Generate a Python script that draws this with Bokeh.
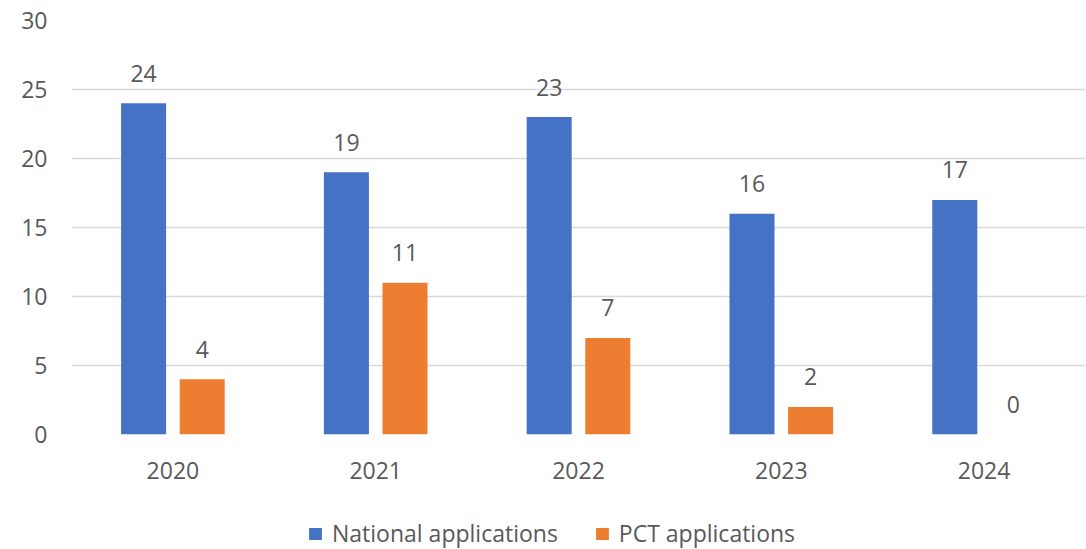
from bokeh.plotting import figure
from bokeh.layouts import column
from bokeh.models import ColumnDataSource, Legend, LegendItem, FactorRange, Range1d, FixedTicker, LabelSet
from bokeh.core.properties import value
from bokeh.transform import dodge
from bokeh.embed import file_html
from bokeh.resources import INLINE

years = ["2020", "2021", "2022", "2023", "2024"]
national = [24, 19, 23, 16, 17]
pct = [4, 11, 7, 2, 0]
series_names = ["National applications", "PCT applications"]
colors = ["#4472C4", "#ED7D31"]
y_ticks = [0, 5, 10, 15, 20, 25, 30]

FONT = "Open Sans"
TXT = "#595959"
FS = "23px"

src = ColumnDataSource(dict(
    year=years, national=national, pct=pct,
    national_lbl=[str(v) for v in national],
    pct_lbl=[str(v) for v in pct],
))

p = figure(x_range=FactorRange(*years), y_range=Range1d(0, 30),
           width=1086, height=500, output_backend="svg", toolbar_location=None,
           min_border_left=71, min_border_right=1, min_border_top=20, min_border_bottom=66)
p.outline_line_color = None
p.xgrid.grid_line_color = None
p.ygrid.grid_line_color = "#D9D9D9"
p.ygrid.grid_line_width = 1.5
p.yaxis.ticker = FixedTicker(ticks=y_ticks)

for ax in (p.xaxis[0], p.yaxis[0]):
    ax.axis_line_color = None
    ax.major_tick_line_color = None
    ax.minor_tick_line_color = None
    ax.major_tick_out = 0
    ax.major_tick_in = 0
    ax.major_label_text_font = FONT
    ax.major_label_text_font_size = FS
    ax.major_label_text_color = TXT
p.yaxis.major_label_standoff = 24
p.xaxis.major_label_standoff = 27

off = 0.1445
w = 0.222
p.vbar(x=dodge("year", -off, range=p.x_range), top="national", width=w, source=src,
       fill_color=colors[0], line_color=None)
p.vbar(x=dodge("year", off, range=p.x_range), top="pct", width=w, source=src,
       fill_color=colors[1], line_color=None)

for col, lbl, o in (("national", "national_lbl", -off), ("pct", "pct_lbl", off)):
    ls = LabelSet(x=dodge("year", o, range=p.x_range), y=col, text=lbl, source=src,
                  text_align="center", text_baseline="middle", y_offset=30,
                  text_font=value(FONT), text_font_size=value(FS), text_color=TXT)
    p.add_layout(ls)

# legend strip (its frame is aligned with the main frame by the column layout)
p2 = figure(width=1086, height=49, output_backend="svg", toolbar_location=None,
            x_axis_location=None, y_axis_location=None,
            x_range=Range1d(0, 1), y_range=Range1d(0, 1),
            min_border_left=71, min_border_right=1, min_border_top=0, min_border_bottom=0)
p2.outline_line_color = None
p2.grid.grid_line_color = None
p2.background_fill_color = None
p2.border_fill_color = None
# zero-area swatch bars: they only provide the legend colours
swatch = ColumnDataSource(dict(x=[0.5], bottom=[0.5], top=[0.5]))
d1 = p2.vbar(x="x", bottom="bottom", top="top", width=0, source=swatch,
             fill_color=colors[0], line_color=None)
d2 = p2.vbar(x="x", bottom="bottom", top="top", width=0, source=swatch,
             fill_color=colors[1], line_color=None)

legend = Legend(items=[LegendItem(label=series_names[0], renderers=[d1]),
                       LegendItem(label=series_names[1], renderers=[d2])],
                orientation="horizontal", location=(236, 0),
                label_text_font=FONT, label_text_font_size=FS, label_text_color=TXT,
                glyph_width=16, glyph_height=15, spacing=36, label_standoff=9,
                border_line_color=None, background_fill_alpha=0, margin=0, padding=0)
p2.add_layout(legend, "center")

layout = column(p, p2, spacing=0)
open("out.html", "w").write(file_html(layout, INLINE))
